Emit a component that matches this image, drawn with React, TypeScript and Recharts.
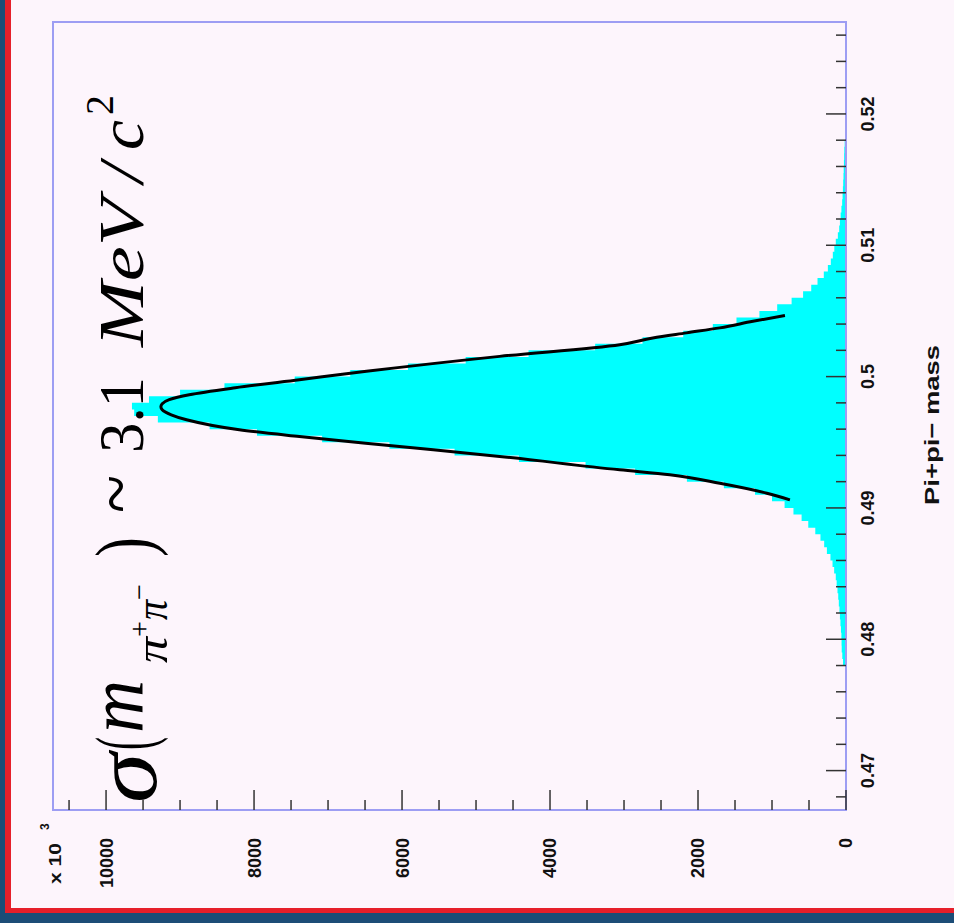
import React from 'react';
import { ComposedChart, Area, Line, XAxis, YAxis, ReferenceArea } from 'recharts';

// ---------- data ----------
const BIN_LOW = 0.467;
const BIN_HIGH = 0.527;
const BIN_WIDTH = 0.0005;

// 120 bins of 0.0005 GeV from 0.467 to 0.527
const COUNTS: number[] = [
  0, 0, 0, 0, 0, 0, 0, 0, 0, 0,
  0, 0, 0, 0, 0, 0, 0, 0, 0, 0,
  0, 0, 40, 50, 58, 60, 62, 68, 75, 82,
  88, 97, 105, 115, 126, 138, 160, 182, 210, 258,
  295, 345, 415, 510, 600, 710, 830, 1000, 1230, 1650,
  2150, 2850, 3520, 4420, 5290, 6170, 7080, 7960, 8600, 9300,
  9620, 9650, 9420, 9000, 8400, 7450, 6700, 5920, 5140, 4290,
  3390, 2750, 2200, 1800, 1480, 1170, 930, 735, 580, 470,
  385, 300, 245, 205, 178, 158, 138, 110, 92, 82,
  72, 62, 52, 46, 42, 38, 34, 31, 28, 25,
  23, 18, 12, 0, 0, 0, 0, 0, 0, 0,
  0, 0, 0, 0, 0, 0, 0, 0, 0, 0,
];

// fitted curve (mass, counts), from high mass to low mass
const FIT_MASS: number[] = [
  0.50465, 0.50421, 0.50371, 0.50333, 0.50294, 0.50243, 0.50154, 0.5004, 0.49976,
  0.49915, 0.49862, 0.49824, 0.49793, 0.4977, 0.49747, 0.49709, 0.49671, 0.49595,
  0.49544, 0.49468, 0.49392, 0.4929, 0.49252, 0.49188, 0.49112, 0.49061,
];
const FIT_COUNT: number[] = [
  825, 1258, 1705, 2155, 2611, 3058, 4681, 6481, 7387,
  8253, 8876, 9146, 9241, 9259, 9241, 9119, 8912, 8199,
  7387, 6034, 4681, 3058, 2381, 1705, 1069, 758,
];

const COUNT_MAX = 10717;
const COUNT_TICKS: number[] = [
  0, 500, 1000, 1500, 2000, 2500, 3000, 3500, 4000, 4500, 5000,
  5500, 6000, 6500, 7000, 7500, 8000, 8500, 9000, 9500, 10000, 10500,
];
const COUNT_LABELS: number[] = [0, 2000, 4000, 6000, 8000, 10000];

const MASS_TICKS: number[] = [
  0.468, 0.47, 0.472, 0.474, 0.476, 0.478, 0.48, 0.482, 0.484, 0.486,
  0.488, 0.49, 0.492, 0.494, 0.496, 0.498, 0.5, 0.502, 0.504, 0.506,
  0.508, 0.51, 0.512, 0.514, 0.516, 0.518, 0.52, 0.522, 0.524, 0.526,
];
const MASS_MAJOR: number[] = [0.47, 0.48, 0.49, 0.5, 0.51, 0.52];
const MASS_MAJOR_TEXT: string[] = ['0.47', '0.48', '0.49', '0.5', '0.51', '0.52'];

// ---------- derived tables ----------
const histData = COUNTS.map((c, k) => ({ m: +(BIN_LOW + k * BIN_WIDTH).toFixed(4), count: c })).concat([
  { m: BIN_HIGH, count: 0 },
]);
const fitData = FIT_MASS.map((m, i) => ({ m, fit: FIT_COUNT[i] }));

// ---------- style ----------
const BG = '#fdf5fc';
const FRAME = '#9d9df3';
const TICK = '#333333';
const LABEL_FONT = '"Liberation Sans", Arial, sans-serif';
const SERIF = '"Liberation Serif", "Times New Roman", serif';

const CountTick = (props: any) => {
  const { x, y, payload } = props;
  const v = payload.value;
  const major = COUNT_LABELS.indexOf(v) >= 0;
  const len = major ? 20 : 10;
  const ty = y + 28;
  return (
    <g>
      <line x1={x} x2={x} y1={y} y2={y - len} stroke={TICK} strokeWidth={1.5} />
      {major && (
        <text
          x={x}
          y={ty}
          transform={`rotate(-90 ${x} ${ty})`}
          textAnchor="end"
          dy="0.36em"
          fontFamily={LABEL_FONT}
          fontWeight="bold"
          fontSize={18}
          fill="#111"
        >
          {String(v)}
        </text>
      )}
    </g>
  );
};

const MassTick = (props: any) => {
  const { x, y, payload } = props;
  const v = payload.value;
  const idx = MASS_MAJOR.findIndex((m) => Math.abs(m - v) < 1e-6);
  const len = idx >= 0 ? 20 : 10;
  const tx = x + 22;
  return (
    <g>
      <line x1={x - len} x2={x} y1={y} y2={y} stroke={TICK} strokeWidth={1.5} />
      {idx >= 0 && (
        <text
          x={tx}
          y={y}
          transform={`rotate(-90 ${tx} ${y})`}
          textAnchor="middle"
          dy="0.36em"
          fontFamily={LABEL_FONT}
          fontWeight="bold"
          fontSize={18}
          fill="#111"
        >
          {MASS_MAJOR_TEXT[idx]}
        </text>
      )}
    </g>
  );
};

type Piece = { t: string; x: number; len: number; size: number; dy: number; italic: boolean };
const TITLE: Piece[] = [
  { t: 'σ', x: 0, len: 50, size: 90, dy: 13, italic: true },
  { t: '(', x: 53, len: 13, size: 80, dy: 8, italic: false },
  { t: 'm', x: 70, len: 53, size: 78, dy: 0, italic: true },
  { t: 'π', x: 140, len: 26, size: 46, dy: 24, italic: true },
  { t: '+', x: 166, len: 16, size: 30, dy: 6, italic: false },
  { t: 'π', x: 183, len: 20, size: 46, dy: 24, italic: true },
  { t: '−', x: 203, len: 16, size: 30, dy: 6, italic: false },
  { t: ')', x: 246, len: 20, size: 80, dy: 8, italic: false },
  { t: '~', x: 290, len: 38, size: 80, dy: 0, italic: false },
  { t: '3.1', x: 350, len: 76, size: 63, dy: 0, italic: false },
  { t: 'MeV', x: 456, len: 149, size: 63, dy: 0, italic: true },
  { t: '/', x: 620, len: 20, size: 63, dy: 0, italic: true },
  { t: 'c', x: 653, len: 30, size: 63, dy: 0, italic: true },
  { t: '2', x: 688, len: 20, size: 40, dy: -30, italic: false },
];

export default function App() {
  return (
    <div style={{ position: 'absolute', left: 0, top: 0, width: 954, height: 923, background: BG, overflow: 'hidden' }}>
      <ComposedChart
        width={954}
        height={923}
        layout="vertical"
        margin={{ top: 22, left: 53, right: 0, bottom: 0 }}
      >
        <XAxis
          type="number"
          domain={[0, COUNT_MAX]}
          reversed
          ticks={COUNT_TICKS}
          interval={0}
          height={113}
          tickSize={0}
          tickMargin={0}
          tickLine={false}
          axisLine={false}
          allowDataOverflow
          tick={(p: any) => <CountTick {...p} />}
        />
        <YAxis
          type="number"
          dataKey="m"
          orientation="right"
          domain={[BIN_LOW, BIN_HIGH]}
          reversed
          ticks={MASS_TICKS}
          interval={0}
          width={108}
          tickSize={0}
          tickMargin={0}
          tickLine={false}
          axisLine={false}
          allowDataOverflow
          tick={(p: any) => <MassTick {...p} />}
        />
        <Area
          data={histData}
          dataKey="count"
          type="stepBefore"
          fill="#00ffff"
          fillOpacity={1}
          stroke="none"
          isAnimationActive={false}
          dot={false}
          activeDot={false}
        />
        <Line
          data={fitData}
          dataKey="fit"
          type="monotone"
          stroke="#000000"
          strokeWidth={3}
          dot={false}
          activeDot={false}
          isAnimationActive={false}
        />
        <ReferenceArea
          x1={0}
          x2={COUNT_MAX}
          y1={BIN_LOW}
          y2={BIN_HIGH}
          fill="none"
          fillOpacity={0}
          stroke={FRAME}
          strokeWidth={2}
          ifOverflow="visible"
        />
      </ComposedChart>

      <svg
        width={954}
        height={923}
        style={{ position: 'absolute', left: 0, top: 0, pointerEvents: 'none' }}
      >
        <g transform="translate(143 803) rotate(-90)">
          {TITLE.map((p, i) => (
            <text
              key={i}
              x={p.x}
              y={p.dy}
              fontFamily={SERIF}
              fontStyle={p.italic ? 'italic' : 'normal'}
              fontSize={p.size}
              textLength={p.len}
              lengthAdjust="spacingAndGlyphs"
              fill="#000"
            >
              {p.t}
            </text>
          ))}
        </g>
        <g transform="translate(61 884) rotate(-90)">
          <text
            x={0}
            y={0}
            fontFamily={LABEL_FONT}
            fontWeight="bold"
            fontSize={17}
            textLength={41}
            lengthAdjust="spacingAndGlyphs"
            fill="#111"
          >
            x 10
          </text>
          <text x={54} y={-12} fontFamily={LABEL_FONT} fontWeight="bold" fontSize={12} fill="#111">
            3
          </text>
        </g>
        <text
          x={931}
          y={425}
          transform="rotate(-90 931 425)"
          textAnchor="middle"
          dy="0.36em"
          fontFamily={LABEL_FONT}
          fontWeight="bold"
          fontSize={21}
          textLength={160}
          lengthAdjust="spacingAndGlyphs"
          fill="#111"
        >
          Pi+pi− mass
        </text>
      </svg>

      <div style={{ position: 'absolute', left: 0, top: 0, width: 5, height: 923, background: '#1c4d77' }} />
      <div style={{ position: 'absolute', left: 5, top: 0, width: 6, height: 913, background: '#e61f2a' }} />
      <div style={{ position: 'absolute', left: 5, top: 908, width: 949, height: 5, background: '#e61f2a' }} />
      <div style={{ position: 'absolute', left: 0, top: 913, width: 954, height: 10, background: '#1c4d77' }} />
    </div>
  );
}
